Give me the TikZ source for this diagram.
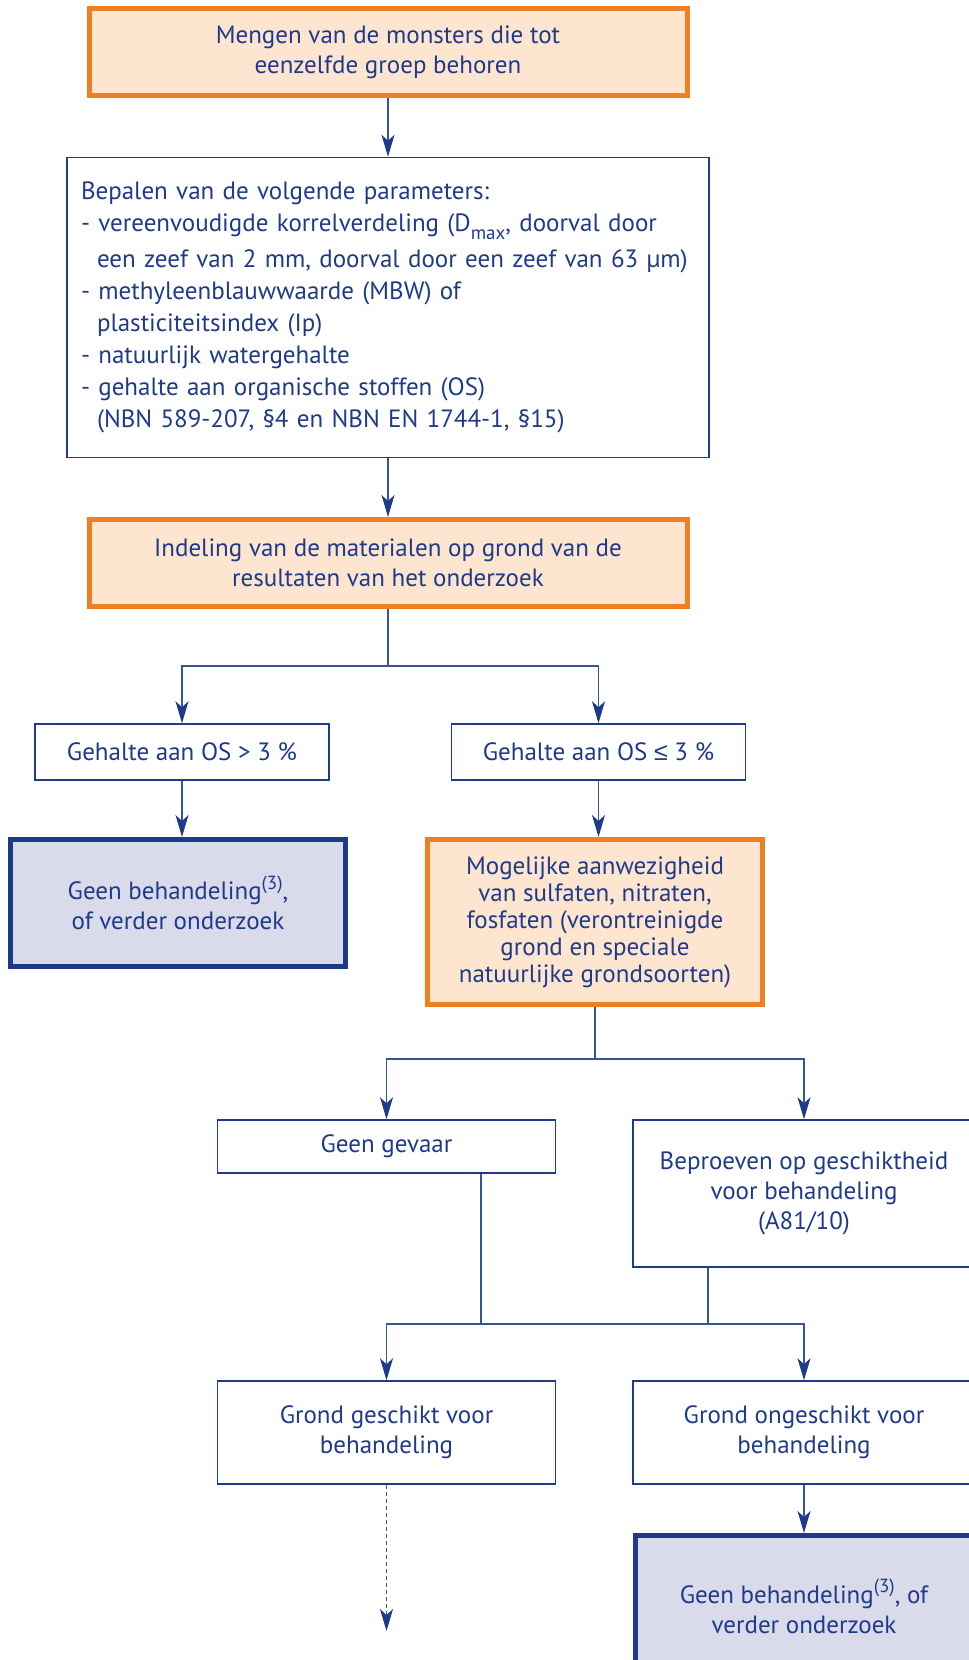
\documentclass[tikz,border=0pt]{standalone}
\usepackage{fontspec}
\setmainfont{PT Sans}
\newfontfamily\symfont{Liberation Sans}
\usetikzlibrary{arrows.meta,positioning}
\definecolor{tekst}{RGB}{30,58,138}
\definecolor{lijn}{RGB}{55,85,150}
\definecolor{oranje}{RGB}{238,127,35}
\definecolor{oranjevul}{RGB}{253,229,208}
\definecolor{blauw}{RGB}{28,58,135}
\definecolor{blauwvul}{RGB}{217,219,235}
\newcommand{\insprong}{\hspace*{8pt}}
\newcommand{\voetn}[1]{\raisebox{0.42em}{\fontsize{9.5}{10}\selectfont #1}}
\newcommand{\onder}[1]{\raisebox{-0.3em}{\fontsize{9.5}{10}\selectfont #1}}
\tikzset{
	basis/.style={draw=tekst, line width=0.75pt, text=tekst, align=center, inner sep=0pt,
		font=\fontsize{12.5}{15}\selectfont},
	oranjebox/.style={basis, draw=oranje, fill=oranjevul, line width=2.5pt},
	blauwbox/.style={basis, draw=blauw, fill=blauwvul, line width=2.5pt},
	lijnstuk/.style={draw=lijn, line width=0.75pt},
	pijl/.style={lijnstuk, -{Stealth[length=11pt,width=6.5pt,inset=3pt,color=tekst]}},
	stippel/.style={dash pattern=on 2pt off 1.5pt}
}
\begin{document}
\begin{tikzpicture}[x=0.5pt,y=-0.5pt]
	\useasboundingbox (0,0) rectangle (969,1660);
	\clip (0,0) rectangle (969,1660);
	% bovenste deel
	\node[oranjebox, minimum width=299pt, minimum height=43.5pt] (meng) at (388,52)
		{Mengen van de monsters die tot\\eenzelfde groep behoren};
	\node[basis, align=left, text width=307pt, inner xsep=7pt, minimum height=150pt,
		font=\fontsize{12.5}{16}\selectfont] (bepalen) at (388,307.5)
		{Bepalen van de volgende parameters:\\
		- vereenvoudigde korrelverdeling (D\onder{max}, doorval door\\[2pt]
		\insprong een zeef van 2 mm, doorval door een zeef van 63 µm)\\
		- methyleenblauwwaarde (MBW) of\\
		\insprong plasticiteitsindex (Ip)\\
		- natuurlijk watergehalte\\
		- gehalte aan organische stoffen (OS)\\
		\insprong (NBN 589-207, §4 en NBN EN 1744-1, §15)};
	\node[oranjebox, minimum width=299pt, minimum height=43.5pt] (ind) at (388,563)
		{Indeling van de materialen op grond van de\\resultaten van het onderzoek};
	% organische stoffen
	\node[basis, minimum width=147pt, minimum height=28pt] (os1) at (182,752)
		{Gehalte aan OS > 3 \%};
	\node[basis, minimum width=147pt, minimum height=28pt] (os2) at (598.5,752)
		{Gehalte aan OS {\symfont ≤} 3 \%};
	\node[blauwbox, minimum width=167.5pt, minimum height=63.5pt] (geen1) at (178,903)
		{Geen behandeling\voetn{(3)},\\of verder onderzoek};
	\node[oranjebox, minimum width=167.5pt, minimum height=82.5pt,
		font=\fontsize{12.5}{13.5}\selectfont] (mog) at (595,922)
		{Mogelijke aanwezigheid\\van sulfaten, nitraten,\\fosfaten (verontreinigde\\grond en speciale\\natuurlijke grondsoorten)};
	% gevaar en beproeving
	\node[basis, minimum width=169pt, minimum height=26.5pt] (gevaar) at (386.5,1146.5)
		{Geen gevaar};
	\node[basis, minimum width=171pt, minimum height=73.5pt] (beproef) at (804,1193.5)
		{Beproeven op geschiktheid\\voor behandeling\\(A81/10)};
	\node[basis, minimum width=169pt, minimum height=51.5pt] (geschikt) at (386.5,1432.5)
		{Grond geschikt voor\\behandeling};
	\node[basis, minimum width=171pt, minimum height=51.5pt] (ongeschikt) at (804,1432.5)
		{Grond ongeschikt voor\\behandeling};
	\node[blauwbox, minimum width=168.5pt, minimum height=71pt] (geen2) at (804,1606.5)
		{Geen behandeling\voetn{(3)}, of\\verder onderzoek};
	% verbindingen
	\draw[pijl] (meng) -- (bepalen);
	\draw[pijl] (bepalen) -- (ind);
	\coordinate (s1) at (388,666);
	\draw[lijnstuk] (ind.south) -- (s1);
	\draw[pijl] (s1) -| (os1.north);
	\draw[pijl] (s1) -| (os2.north);
	\draw[pijl] (os1.south) -- (os1.south |- geen1.north);
	\draw[pijl] (os2.south) -- (os2.south |- mog.north);
	\coordinate (s2) at (595,1059);
	\draw[lijnstuk] (mog.south) -- (s2);
	\draw[pijl] (s2) -| (gevaar.north);
	\draw[pijl] (s2) -| (beproef.north);
	\coordinate (v1) at (481,1324);
	\coordinate (v2) at (708,1324);
	\draw[lijnstuk] (gevaar.south -| v1) -- (v1);
	\draw[lijnstuk] (beproef.south -| v2) -- (v2);
	\draw[lijnstuk] (v1) -- (v2);
	\draw[pijl] (v1) -| (geschikt.north);
	\draw[pijl] (v2) -| (ongeschikt.north);
	\draw[pijl] (ongeschikt) -- (geen2);
	\coordinate (verder) at (386.5,1631);
	\draw[pijl, stippel] (geschikt) -- (verder);
\end{tikzpicture}
\end{document}
